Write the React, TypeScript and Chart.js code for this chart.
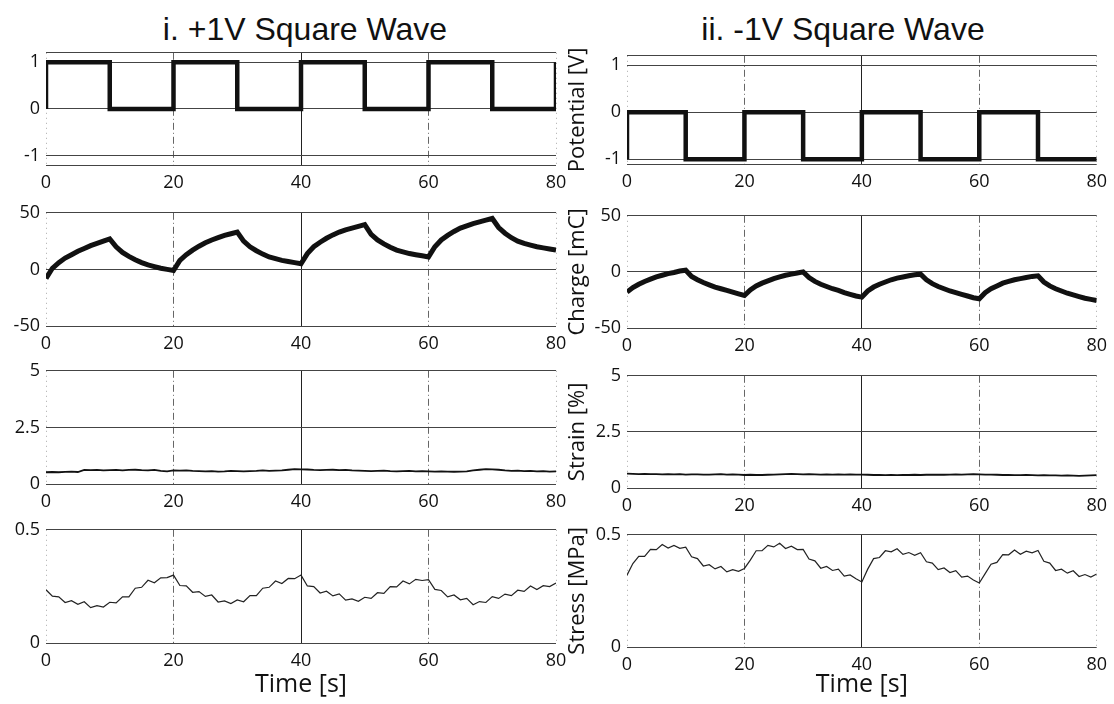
import React, { useEffect, useRef } from 'react';
import { Chart, registerables } from 'chart.js';

Chart.register(...registerables);

// ---------------- data ----------------
const TIME_1S = Array.from({ length: 81 }, (_, i) => i);
const X_TICKS = [0, 20, 40, 60, 80];

const POT_TIME_POS = [0, 0, 10, 10, 20, 20, 30, 30, 40, 40, 50, 50, 60, 60, 70, 70, 80, 80];
const POT_POS = [0, 1, 1, 0, 0, 1, 1, 0, 0, 1, 1, 0, 0, 1, 1, 0, 0, 1];
const POT_TIME_NEG = [0, 0, 10, 10, 20, 20, 30, 30, 40, 40, 50, 50, 60, 60, 70, 70, 80];
const POT_NEG = [-1, 0, 0, -1, -1, 0, 0, -1, -1, 0, 0, -1, -1, 0, 0, -1, -1];

const CHARGE_POS = [
  -8, 1, 6, 10, 13, 16, 18.5, 21, 23, 25, 27,
  20, 15, 11.5, 8.5, 6, 4, 2.5, 1, 0, -1,
  8, 13, 17, 20.5, 23.5, 26, 28, 30, 31.5, 33,
  25, 20, 16.5, 13.5, 11, 9.5, 8, 7, 6, 5,
  14, 20, 24, 27.5, 30.5, 33, 35, 36.5, 38, 39.5,
  31, 26, 22.5, 19.5, 17, 15.5, 14, 13, 12, 11,
  20, 26, 30, 33.5, 36.5, 38.5, 40.5, 42, 43.5, 45,
  37, 32, 28, 25, 23, 21.5, 20, 19, 18, 17,
];
const CHARGE_NEG = [
  -18, -14, -11, -8.5, -6.5, -4.5, -3, -1.5, -0.5, 0.8, 1.5,
  -4, -7, -9.5, -11.5, -13.5, -15, -16.5, -18, -19.5, -21,
  -16, -12.5, -10, -8, -6, -4.5, -3, -2, -1, 0,
  -5, -8.5, -11, -13, -15, -16.5, -18.5, -20, -21.5, -22.5,
  -17, -13.5, -11, -9, -7, -5.5, -4.5, -3.5, -2.5, -2,
  -7, -10.5, -13, -15, -17, -18.5, -20, -21.5, -23, -24,
  -18.5, -15, -12.5, -10, -8.5, -7, -6, -5, -4, -3.5,
  -9, -12.5, -15, -17, -19, -20.5, -22, -23.5, -24.5, -25.5,
];

const STRAIN_POS = [
  0.52, 0.53, 0.52, 0.54, 0.55, 0.53, 0.62, 0.61, 0.62, 0.6,
  0.61, 0.62, 0.6, 0.62, 0.63, 0.61, 0.6, 0.62, 0.58, 0.56,
  0.6, 0.59, 0.6, 0.58, 0.57, 0.56, 0.57, 0.55, 0.56, 0.58,
  0.57, 0.56, 0.57, 0.58, 0.6, 0.58, 0.59, 0.6, 0.63, 0.66,
  0.65, 0.64, 0.62, 0.61, 0.62, 0.63, 0.61, 0.62, 0.6, 0.59,
  0.58, 0.57, 0.58, 0.59, 0.57, 0.56, 0.57, 0.58, 0.56, 0.57,
  0.56, 0.55, 0.56, 0.55, 0.54, 0.55, 0.56, 0.6, 0.63, 0.66,
  0.65, 0.63, 0.6, 0.58, 0.59, 0.57, 0.58, 0.56, 0.57, 0.55, 0.56,
];
const STRAIN_NEG = [
  0.64, 0.63, 0.62, 0.63, 0.62, 0.62, 0.61, 0.62, 0.61, 0.62,
  0.6, 0.61, 0.61, 0.6, 0.6, 0.61, 0.62, 0.6, 0.61, 0.6,
  0.58, 0.59, 0.58, 0.58, 0.59, 0.6, 0.61, 0.62, 0.63, 0.62,
  0.61, 0.62, 0.61, 0.6, 0.61, 0.6, 0.61, 0.6, 0.61, 0.6,
  0.6, 0.59, 0.58, 0.58, 0.57, 0.58, 0.57, 0.58, 0.58, 0.59,
  0.58, 0.59, 0.59, 0.6, 0.59, 0.6, 0.61, 0.6, 0.61, 0.62,
  0.61, 0.6, 0.6, 0.59, 0.58, 0.58, 0.57, 0.57, 0.58, 0.57,
  0.56, 0.57, 0.56, 0.56, 0.55, 0.56, 0.55, 0.54, 0.55, 0.56, 0.57,
];

const STRESS_POS = [
  0.235, 0.207, 0.204, 0.179, 0.187, 0.171, 0.182, 0.156, 0.165, 0.159,
  0.18, 0.177, 0.204, 0.204, 0.242, 0.246, 0.277, 0.266, 0.288, 0.289,
  0.3, 0.254, 0.252, 0.224, 0.227, 0.206, 0.212, 0.181, 0.186, 0.174,
  0.19, 0.182, 0.209, 0.209, 0.242, 0.246, 0.274, 0.263, 0.285, 0.284,
  0.3, 0.252, 0.249, 0.221, 0.229, 0.208, 0.217, 0.189, 0.195, 0.184,
  0.202, 0.197, 0.222, 0.219, 0.249, 0.248, 0.274, 0.261, 0.281, 0.276,
  0.28, 0.237, 0.232, 0.204, 0.212, 0.191, 0.197, 0.169, 0.183, 0.179,
  0.205, 0.197, 0.216, 0.209, 0.233, 0.228, 0.252, 0.236, 0.253, 0.249, 0.265,
];
const STRESS_NEG = [
  0.32, 0.372, 0.404, 0.404, 0.435, 0.434, 0.457, 0.441, 0.453, 0.44,
  0.445, 0.402, 0.394, 0.361, 0.367, 0.348, 0.359, 0.335, 0.345, 0.337,
  0.35, 0.387, 0.429, 0.429, 0.453, 0.446, 0.462, 0.439, 0.449, 0.434,
  0.435, 0.392, 0.384, 0.351, 0.359, 0.341, 0.347, 0.316, 0.321, 0.304,
  0.29, 0.347, 0.394, 0.399, 0.429, 0.424, 0.438, 0.413, 0.421, 0.409,
  0.42, 0.38, 0.374, 0.345, 0.352, 0.332, 0.34, 0.311, 0.316, 0.299,
  0.285, 0.327, 0.369, 0.377, 0.412, 0.411, 0.432, 0.413, 0.427, 0.42,
  0.43, 0.382, 0.374, 0.341, 0.347, 0.329, 0.34, 0.314, 0.323, 0.312, 0.325,
];

const Y_TICKS_POT = [-1, 0, 1];
const Y_TICKS_CHARGE = [-50, 0, 50];
const Y_TICKS_STRAIN = [0, 2.5, 5];
const Y_TICKS_STRESS = [0, 0.5];

const TITLE_LEFT = 'i. +1V Square Wave';
const TITLE_RIGHT = 'ii. -1V Square Wave';
const Y_TITLES = ['Potential [V]', 'Charge [mC]', 'Strain [%]', 'Stress [MPa]'];
const X_TITLE = 'Time [s]';

// ---------------- component ----------------
const TICK_FONT = { family: '"Open Sans", "DejaVu Sans", sans-serif', size: 18 };
const INK = '#111';

type PanelProps = {
  left: number;
  top: number;
  width: number;
  height: number;
  yWidth: number;
  xHeight: number;
  padTop: number;
  padRight: number;
  yMin: number;
  yMax: number;
  yTicks: number[];
  xs: number[];
  ys: number[];
  lineWidth: number;
  lineColor: string;
  yTitle?: string;
  xTitle?: string;
};

function Panel(p: PanelProps) {
  const ref = useRef<HTMLCanvasElement | null>(null);
  useEffect(() => {
    if (!ref.current) return;
    const gridVals = Array.from(new Set([p.yMin, ...p.yTicks, p.yMax])).sort((a, b) => a - b);
    const chart = new Chart(ref.current, {
      type: 'line',
      data: {
        datasets: [
          {
            data: p.xs.map((x, i) => ({ x, y: p.ys[i] })),
            borderColor: p.lineColor,
            borderWidth: p.lineWidth,
            pointRadius: 0,
            tension: 0,
            fill: false,
            borderJoinStyle: 'miter',
            borderCapStyle: 'butt',
          },
        ],
      },
      options: {
        responsive: false,
        animation: false,
        events: [],
        layout: { padding: { left: 0, top: p.padTop, right: p.padRight, bottom: 0 } },
        plugins: {
          legend: { display: false },
          tooltip: { enabled: false },
          title: { display: false },
        },
        scales: {
          x: {
            type: 'linear',
            min: 0,
            max: 80,
            afterBuildTicks: (s: any) => {
              s.ticks = X_TICKS.map((v) => ({ value: v }));
            },
            afterFit: (s: any) => {
              s.height = p.xHeight;
            },
            ticks: {
              font: TICK_FONT,
              color: INK,
              padding: 7,
              maxRotation: 0,
              autoSkip: false,
              callback: (v: any) => String(v),
            },
            grid: {
              drawTicks: false,
              lineWidth: 1,
              color: (ctx: any) => {
                const v = ctx.tick ? ctx.tick.value : 0;
                if (v === 40) return '#222';
                if (v === 0 || v === 80) return '#aaa';
                return '#666';
              },
            },
            border: {
              display: false,
              dash: (ctx: any) => {
                const v = ctx.tick ? ctx.tick.value : 40;
                if (v === 40) return [];
                if (v === 0 || v === 80) return [1, 4];
                return [7, 3, 1, 3];
              },
            },
            title: p.xTitle
              ? {
                  display: true,
                  text: p.xTitle,
                  color: INK,
                  font: { family: '"Open Sans", "DejaVu Sans", sans-serif', size: 25 },
                  padding: { top: 0, bottom: 4 },
                }
              : { display: false },
          },
          y: {
            type: 'linear',
            min: p.yMin,
            max: p.yMax,
            afterBuildTicks: (s: any) => {
              s.ticks = gridVals.map((v) => ({ value: v }));
            },
            afterFit: (s: any) => {
              s.width = p.yWidth;
            },
            ticks: {
              font: TICK_FONT,
              color: INK,
              padding: 6,
              autoSkip: false,
              callback: (v: any) => (p.yTicks.includes(v) ? String(v) : ''),
            },
            grid: {
              drawTicks: false,
              lineWidth: 1,
              color: '#444',
            },
            border: { display: false },
            title: p.yTitle
              ? {
                  display: true,
                  text: p.yTitle,
                  color: INK,
                  font: { family: '"Open Sans", "DejaVu Sans", sans-serif', size: 22 },
                  padding: { top: 5, bottom: 0 },
                }
              : { display: false },
          },
        },
      } as any,
    });
    return () => chart.destroy();
  }, []);
  return (
    <canvas
      ref={ref}
      width={p.width}
      height={p.height}
      style={{ position: 'absolute', left: p.left, top: p.top, width: p.width, height: p.height, display: 'block' }}
    />
  );
}

type Row = { yMin: number; yMax: number; yTicks: number[]; lw: number; color: string };

const ROWS: Row[] = [
  { yMin: -1.2, yMax: 1.2, yTicks: Y_TICKS_POT, lw: 4.5, color: '#111' },
  { yMin: -50, yMax: 50, yTicks: Y_TICKS_CHARGE, lw: 5, color: '#111' },
  { yMin: 0, yMax: 5, yTicks: Y_TICKS_STRAIN, lw: 1.8, color: '#111' },
  { yMin: 0, yMax: 0.5, yTicks: Y_TICKS_STRESS, lw: 1.2, color: '#222' },
];

const LEFT_SERIES = [
  { xs: POT_TIME_POS, ys: POT_POS },
  { xs: TIME_1S, ys: CHARGE_POS },
  { xs: TIME_1S, ys: STRAIN_POS },
  { xs: TIME_1S, ys: STRESS_POS },
];
const RIGHT_SERIES = [
  { xs: POT_TIME_NEG, ys: POT_NEG },
  { xs: TIME_1S, ys: CHARGE_NEG },
  { xs: TIME_1S, ys: STRAIN_NEG },
  { xs: TIME_1S, ys: STRESS_NEG },
];

// plot-area bands [top, bottom] in page pixels
const LEFT_BANDS = [
  [51, 165],
  [211, 326],
  [369, 484],
  [528, 643],
];
const RIGHT_BANDS = [
  [54, 164],
  [214, 328],
  [374, 488],
  [533, 647],
];

const PAD_TOP = 15;

export default function App() {
  const panels: any[] = [];
  for (let r = 0; r < 4; r++) {
    const row = ROWS[r];
    const last = r === 3;
    // left column
    {
      const [t, b] = LEFT_BANDS[r];
      const xh = last ? 704 - b : 30;
      panels.push(
        <Panel
          key={'L' + r}
          left={0}
          top={t - PAD_TOP}
          width={576}
          height={b - t + PAD_TOP + xh}
          yWidth={46}
          xHeight={xh}
          padTop={PAD_TOP}
          padRight={20}
          yMin={row.yMin}
          yMax={row.yMax}
          yTicks={row.yTicks}
          xs={LEFT_SERIES[r].xs}
          ys={LEFT_SERIES[r].ys}
          lineWidth={row.lw}
          lineColor={row.color}
          xTitle={last ? X_TITLE : undefined}
        />
      );
    }
    // right column
    {
      const [t, b] = RIGHT_BANDS[r];
      const xh = last ? 704 - b : 30;
      panels.push(
        <Panel
          key={'R' + r}
          left={560}
          top={t - PAD_TOP}
          width={554}
          height={b - t + PAD_TOP + xh}
          yWidth={67}
          xHeight={xh}
          padTop={PAD_TOP}
          padRight={15}
          yMin={r === 0 ? -1.1 : row.yMin}
          yMax={row.yMax}
          yTicks={row.yTicks}
          xs={RIGHT_SERIES[r].xs}
          ys={RIGHT_SERIES[r].ys}
          lineWidth={row.lw}
          lineColor={row.color}
          yTitle={Y_TITLES[r]}
          xTitle={last ? X_TITLE : undefined}
        />
      );
    }
  }
  const titleStyle: React.CSSProperties = {
    position: 'absolute',
    top: 13,
    transform: 'translateX(-50%)',
    fontFamily: '"Liberation Sans", Arial, sans-serif',
    fontSize: 32,
    lineHeight: '32px',
    whiteSpace: 'nowrap',
    color: INK,
  };
  return (
    <div style={{ position: 'fixed', left: 0, top: 0, width: 1114, height: 704, background: '#fff', overflow: 'hidden' }}>
      <div style={{ ...titleStyle, left: 305 }}>{TITLE_LEFT}</div>
      <div style={{ ...titleStyle, left: 843 }}>{TITLE_RIGHT}</div>
      {panels}
    </div>
  );
}
